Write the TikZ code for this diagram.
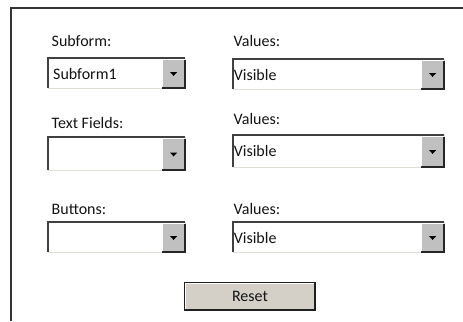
\documentclass[tikz,border=0pt]{standalone}
\usepackage{fontspec}
\setmainfont{Carlito}
\definecolor{panelline}{RGB}{52,52,52}
\definecolor{sunkshade}{RGB}{64,64,64}
\definecolor{sunklit}{RGB}{226,222,214}
\definecolor{btnface}{RGB}{192,192,192}
\definecolor{resetface}{RGB}{212,208,200}
\definecolor{inktext}{RGB}{20,20,20}
\begin{document}
\begin{tikzpicture}[x=1bp,y=-1bp,
  lbl/.style={anchor=base west,inner sep=0pt,font=\fontsize{16bp}{18bp}\selectfont,text=inktext},
  field/.style={anchor=north west,fill=white,draw=none,inner sep=0pt},
  sunkdark/.style={draw=sunkshade,line width=1.8bp},
  sunklight/.style={draw=sunklit,line width=1.3bp},
  btn/.style={anchor=north east,fill=btnface,draw=none,inner sep=0pt,minimum width=22bp},
  btndark/.style={draw=black!85,line width=1.5bp},
  btnlight/.style={draw=white,line width=0.8bp},
  resetbtn/.style={fill=resetface,draw=black!88,line width=1.2bp,inner sep=0pt,
    minimum width=130bp,minimum height=27bp,font=\fontsize{16bp}{18bp}\selectfont,text=inktext},
]
\useasboundingbox (0,0) rectangle (463,321);

% outer panel edge
\draw[draw=panelline,line width=2bp] (10.5,321) -- (10.5,7.5) -- (463,7.5);

% drop-down list: name, x, y, width, height
\newcommand\dropfield[5]{%
  \node[field,minimum width=#4 bp,minimum height=#5 bp] (#1) at (#2,#3) {};
  \draw[sunklight] (#1.north east) -- (#1.south east) -- (#1.south west);
  \draw[sunkdark] (#1.south west) -- (#1.north west) -- (#1.north east);
  \node[btn,minimum height=#5 bp - 2bp] (#1btn) at ([xshift=-0.6bp,yshift=-1.5bp]#1.north east) {};
  \draw[btnlight] (#1btn.south west) -- (#1btn.north west) -- (#1btn.north east);
  \draw[btndark] (#1btn.north east) -- (#1btn.south east) -- (#1btn.south west);
  \fill[black] ([xshift=-3.6bp,yshift=1.6bp]#1btn.center) -- ++(7.2bp,0) -- ++(-3.6bp,-3.8bp) -- cycle;
}

% labels
\node[lbl] (lsub) at (51.5,46) {Subform:};
\node[lbl] (lval1) at (233.5,46) {Values:};
\node[lbl] (ltxt) at (51.5,128.5) {Text Fields:};
\node[lbl] (lval2) at (233.5,124.5) {Values:};
\node[lbl] (lbtn) at (51.5,214.5) {Buttons:};
\node[lbl] (lval3) at (233.5,214.5) {Values:};

% fields
\dropfield{fsub}{48}{58}{137}{30}
\dropfield{fval1}{233}{59}{211}{30}
\dropfield{ftxt}{48}{137}{137}{33}
\dropfield{fval2}{233}{135}{211}{32}
\dropfield{fbtn}{48}{222}{137}{30}
\dropfield{fval3}{233}{222}{211}{30}

% current values
\node[lbl] (vsub) at (53,79.5) {Subform1};
\node[lbl] (vval1) at (233.6,80) {Visible};
\node[lbl] (vval2) at (233.6,156.5) {Visible};
\node[lbl] (vval3) at (233.6,243.5) {Visible};

% reset button
\node[resetbtn] (reset) at (250,296.5) {Reset};
\draw[white,line width=0.7bp] ([xshift=1.2bp,yshift=1.2bp]reset.south west) -- ([xshift=1.2bp,yshift=-1.2bp]reset.north west) -- ([xshift=-1.2bp,yshift=-1.2bp]reset.north east);
\end{tikzpicture}
\end{document}
